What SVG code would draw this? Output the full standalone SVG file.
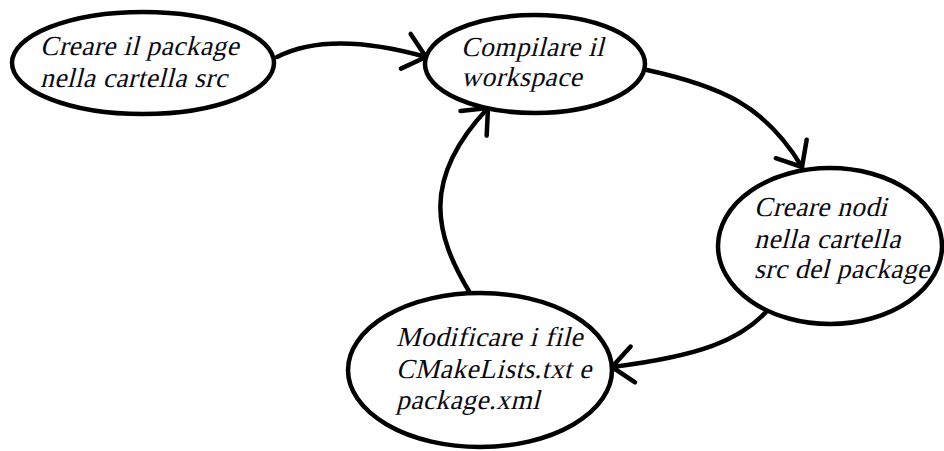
<svg xmlns="http://www.w3.org/2000/svg" width="944" height="451" viewBox="0 0 944 451">
  <style>
    .node ellipse { fill: #fff; stroke: #000; stroke-width: 4.5; }
    /* upright serif slanted by a skew transform on each line */
    .node text { font-family: 'Liberation Serif', 'Times New Roman', serif; font-size: 27.5px; letter-spacing: 0.4px; fill: #0a0a14; }
    .edge { fill: none; stroke: #000; stroke-width: 4.5; stroke-linecap: round; }
  </style>
  <defs>
    <marker id="arrow" markerUnits="userSpaceOnUse" markerWidth="50" markerHeight="50" viewBox="-30 -25 50 50" refX="0" refY="0" orient="auto" overflow="visible">
      <path d="M-21,-18 L0,0 L-21,18" fill="none" stroke="#000" stroke-width="4.5" stroke-linecap="round" stroke-linejoin="round"/>
    </marker>
  </defs>
  <rect width="944" height="451" fill="#fff"/>

  <g id="connectors">
    <path class="edge" d="M277,57 Q330,30 426,57" marker-end="url(#arrow)"/>
    <path class="edge" d="M647,70 C720,86 765,105 802,167" marker-end="url(#arrow)"/>
    <path class="edge" d="M766,312 C740,340 700,356 612,367" marker-end="url(#arrow)"/>
    <path class="edge" d="M470,293 C435,235 420,180 488,108" marker-end="url(#arrow)"/>
  </g>

  <g id="node-create-package" class="node">
    <ellipse cx="143" cy="63" rx="131" ry="51"/>
    <text transform="translate(40,55) skewX(-14)">Creare il package</text>
    <text transform="translate(40,87) skewX(-14)">nella cartella src</text>
  </g>

  <g id="node-build-workspace" class="node">
    <ellipse cx="535" cy="64" rx="110" ry="49"/>
    <text transform="translate(461,56) skewX(-14)">Compilare il</text>
    <text transform="translate(461,86) skewX(-14)">workspace</text>
  </g>

  <g id="node-create-nodes" class="node">
    <ellipse cx="830" cy="246" rx="112" ry="78"/>
    <text transform="translate(754,216) skewX(-14)">Creare nodi</text>
    <text transform="translate(754,248) skewX(-14)">nella cartella</text>
    <text transform="translate(754,278) skewX(-14)">src del package</text>
  </g>

  <g id="node-edit-files" class="node">
    <ellipse cx="480" cy="370" rx="132" ry="77"/>
    <text transform="translate(396,346) skewX(-14)">Modificare i file</text>
    <text transform="translate(396,378) skewX(-14)">CMakeLists.txt e</text>
    <text transform="translate(396,409) skewX(-14)">package.xml</text>
  </g>
</svg>
